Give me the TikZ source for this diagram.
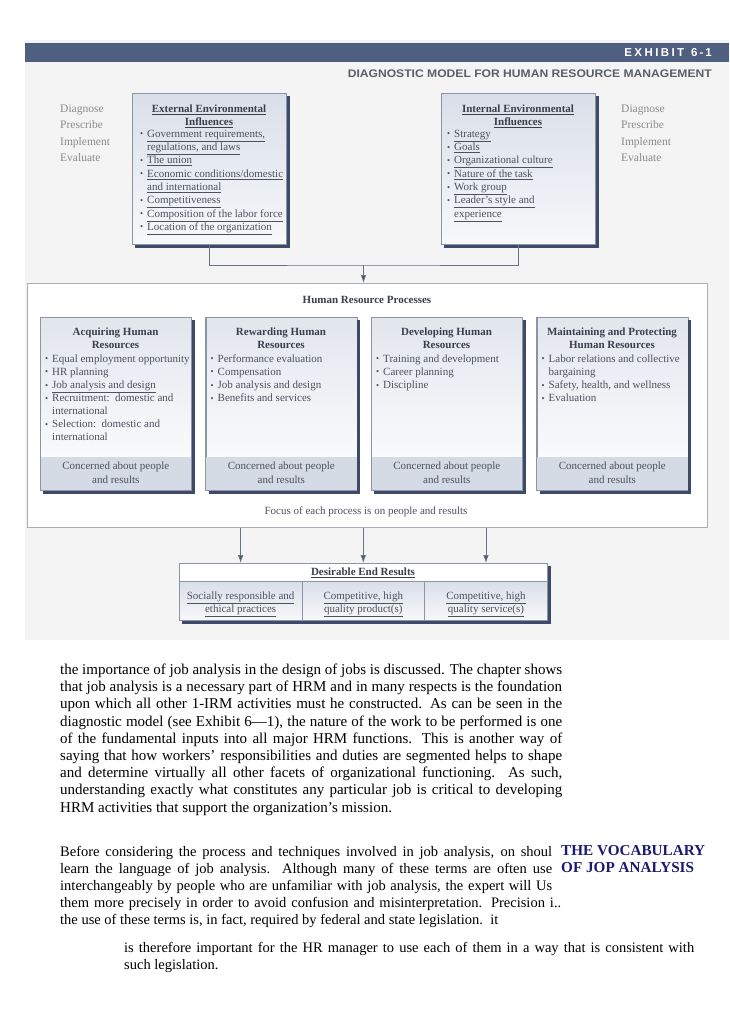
\documentclass[tikz,border=0pt]{standalone}
\usepackage{fontspec}
\setmainfont{Liberation Serif}
\newfontfamily\hsans{Liberation Sans}
\usetikzlibrary{arrows.meta,calc}
\definecolor{barc}{HTML}{4F5F80}
\definecolor{bgc}{HTML}{F4F4F4}
\definecolor{shc}{HTML}{3E4A68}
\definecolor{bdc}{HTML}{8C95A8}
\definecolor{topc}{HTML}{D9DFE9}
\definecolor{botc}{HTML}{F7F8FA}
\definecolor{ptopc}{HTML}{E2E6ED}
\definecolor{bandc}{HTML}{D5DBE4}
\definecolor{txd}{HTML}{3A3F4C}
\definecolor{txm}{HTML}{4C515E}
\definecolor{txl}{HTML}{8A8A8A}
\definecolor{hdrtxt}{HTML}{5A5F67}
\definecolor{navyc}{HTML}{1A1A70}
\definecolor{lnc}{HTML}{6A7284}
\definecolor{arc}{HTML}{4A5570}
\definecolor{obc}{HTML}{A9AEB6}
\newcommand{\bul}{\makebox[7pt][l]{\raisebox{0.5pt}{\scalebox{0.8}{\textbullet}}}}
\newcommand{\ind}{\hspace*{7pt}}
\newcommand{\uu}[1]{\underline{#1}}
\newcommand{\boxshadow}[1]{\draw[shc, line width=3pt] ([xshift=1.5pt,yshift=-3pt]#1.north east) -- ([xshift=1.5pt,yshift=-1.5pt]#1.south east) -- ([xshift=3pt,yshift=-1.5pt]#1.south west);}
\begin{document}
\begin{tikzpicture}[x=1pt,y=-1pt,
  lab/.style={inner sep=0pt, text=txl, font=\fontsize{11.5}{13}\selectfont},
  dtext/.style={inner sep=0pt, text=txm, font=\fontsize{11}{13.3}\selectfont},
  dtitle/.style={inner sep=0pt, text=txd, font=\bfseries\fontsize{11}{13.6}\selectfont},
  sbox/.style={draw=bdc, line width=0.6pt, top color=topc, bottom color=botc, inner sep=0pt, anchor=north west, minimum width=154pt, minimum height=151pt},
  pbox/.style={draw=bdc, line width=0.6pt, top color=ptopc, bottom color=white, inner sep=0pt, anchor=north west, minimum width=151pt, minimum height=173pt},
  cellbox/.style={draw=bdc, line width=0.6pt, top color=topc, bottom color=botc, inner sep=0pt, anchor=north west, minimum width=122.67pt, minimum height=39pt},
  conn/.style={draw=lnc, line width=0.7pt},
  arr/.style={conn, -{Latex[length=8pt,width=5.5pt,fill=arc]}},
  body/.style={inner sep=0pt, anchor=base west, font=\fontsize{15}{17.4}\selectfont},
  bodyb/.style={inner sep=0pt, anchor=base west, font=\fontsize{14.5}{17}\selectfont},
  voc/.style={inner sep=0pt, anchor=base west, text=navyc, font=\bfseries\fontsize{15.2}{18}\selectfont},
]
\useasboundingbox (0,0) rectangle (729,1030);
\fill[white] (0,0) rectangle (729,1030);
\fill[bgc] (25,40) rectangle (729,640);

% header
\node[fill=barc, inner sep=0pt, minimum width=704pt, minimum height=19pt, anchor=north west] (bar) at (25,43) {};
\node[anchor=east, inner sep=0pt, text=white, font=\hsans\bfseries\fontsize{11.5}{13}\selectfont] (exh) at (712,53) {E\kern2.4pt X\kern2.4pt H\kern2.4pt I\kern2.4pt B\kern2.4pt I\kern2.4pt T\kern7pt 6\kern2pt-\kern2pt 1};
\node[anchor=base east, inner sep=0pt, text=hdrtxt, font=\hsans\bfseries\fontsize{11}{13}\selectfont] (dmt) at (712,78) {\resizebox{364pt}{\height}{DIAGNOSTIC MODEL FOR HUMAN RESOURCE MANAGEMENT}};

% diagnose labels
\foreach \w [count=\i from 0] in {Diagnose,Prescribe,Implement,Evaluate} {
  \node[lab, anchor=base west] (dl\i) at (60,{112.3+16.4*\i}) {\w};
  \node[lab, anchor=base west] (dr\i) at (621,{112.3+16.4*\i}) {\w};
}

% external box
\node[sbox] (ext) at (132,93) {};
\boxshadow{ext}
\node[dtitle, anchor=base] (extT1) at (209,112.3) {\uu{External Environmental}};
\node[dtitle, anchor=base] (extT2) at (209,125.9) {\uu{Influences}};
\foreach \t [count=\i from 0] in {{\bul\uu{Government requirements,}},{\ind\uu{regulations, and laws}},{\bul\uu{The union}},{\bul\uu{Economic conditions/domestic}},{\ind\uu{and international}},{\bul\uu{Competitiveness}},{\bul\uu{Composition of the labor force}},{\bul\uu{Location of the organization}}}
  \node[dtext, anchor=base west] (exti\i) at (140,{137.3+13.3*\i}) {\t};

% internal box
\node[sbox] (int) at (441,93) {};
\boxshadow{int}
\node[dtitle, anchor=base] (intT1) at (518,112.3) {\uu{Internal Environmental}};
\node[dtitle, anchor=base] (intT2) at (518,125.9) {\uu{Influences}};
\foreach \t [count=\i from 0] in {{\bul\uu{Strategy}},{\bul\uu{Goals}},{\bul\uu{Organizational culture}},{\bul\uu{Nature of the task}},{\bul\uu{Work group}},{\bul\uu{Leader's style and}},{\ind\uu{experience}}}
  \node[dtext, anchor=base west] (inti\i) at (447,{137.3+13.3*\i}) {\t};

% process outer box
\node[draw=obc, fill=white, line width=0.8pt, inner sep=0pt, anchor=north west, minimum width=680pt, minimum height=244pt] (proc) at (27,283) {};
\node[dtitle, anchor=base] (procT) at (367,303) {Human Resource Processes};

% connector into processes
\coordinate (jn) at (363.5,265);
\draw[conn] (ext.south) |- (jn) -| (int.south);
\draw[arr] (jn) -- (jn |- proc.north);

% process boxes
\foreach \nm/\x in {acq/40,rew/205.5,dev/371,mnt/536.5} {
  \node[pbox] (\nm) at (\x,317) {};
  \fill[bandc] ($(\nm.south west)+(0.3,0)$) rectangle ($(\nm.south east)+(-0.3,-34)$);
  \draw[bdc, line width=0.6pt] (\nm.south west) rectangle (\nm.north east);
  \boxshadow{\nm}
  \node[dtext, anchor=base] (\nm b1) at ($(\nm.south)+(0,-20.7)$) {Concerned about people};
  \node[dtext, anchor=base] (\nm b2) at ($(\nm.south)+(0,-7)$) {and results};
}
\node[dtitle, anchor=base] (acqT1) at (115.5,335.3) {Acquiring Human};
\node[dtitle, anchor=base] (acqT2) at (115.5,348.9) {Resources};
\node[dtitle, anchor=base] (rewT1) at (281,335.3) {Rewarding Human};
\node[dtitle, anchor=base] (rewT2) at (281,348.9) {Resources};
\node[dtitle, anchor=base] (devT1) at (446.5,335.3) {Developing Human};
\node[dtitle, anchor=base] (devT2) at (446.5,348.9) {Resources};
\node[dtitle, anchor=base] (mntT1) at (612,335.3) {Maintaining and Protecting};
\node[dtitle, anchor=base] (mntT2) at (612,348.9) {Human Resources};
\foreach \t [count=\i from 0] in {{\bul Equal employment opportunity},{\bul HR planning},{\bul\uu{Job analysis and design}},{\bul Recruitment:\ \ domestic and},{\ind international},{\bul Selection:\ \ domestic and},{\ind international}}
  \node[dtext, anchor=base west] (acqi\i) at (45,{362.3+13.1*\i}) {\t};
\foreach \t [count=\i from 0] in {{\bul Performance evaluation},{\bul Compensation},{\bul Job analysis and design},{\bul Benefits and services}}
  \node[dtext, anchor=base west] (rewi\i) at (210.5,{362.3+13.1*\i}) {\t};
\foreach \t [count=\i from 0] in {{\bul Training and development},{\bul Career planning},{\bul Discipline}}
  \node[dtext, anchor=base west] (devi\i) at (376,{362.3+13.1*\i}) {\t};
\foreach \t [count=\i from 0] in {{\bul Labor relations and collective},{\ind bargaining},{\bul Safety, health, and wellness},{\bul Evaluation}}
  \node[dtext, anchor=base west] (mnti\i) at (541.5,{362.3+13.1*\i}) {\t};
\node[dtext, anchor=base] (focus) at (366,514.3) {Focus of each process is on people and results};

% desirable end results
\node[draw=bdc, fill=white, line width=0.6pt, inner sep=0pt, anchor=north west, minimum width=368pt, minimum height=57pt] (res) at (179,563) {};
\node[cellbox] (c1) at (179,581) {};
\node[cellbox] (c2) at (301.67,581) {};
\node[cellbox] (c3) at (424.33,581) {};
\boxshadow{res}
\node[dtitle, anchor=base] (resT) at (363,575.3) {\uu{Desirable End Results}};
\node[dtext, anchor=base] (c1a) at ($(c1.north)+(0,18.3)$) {\uu{Socially responsible and}};
\node[dtext, anchor=base] (c1b) at ($(c1.north)+(0,31.5)$) {\uu{ethical practices}};
\node[dtext, anchor=base] (c2a) at ($(c2.north)+(0,18.3)$) {\uu{Competitive, high}};
\node[dtext, anchor=base] (c2b) at ($(c2.north)+(0,31.5)$) {\uu{quality product(s)}};
\node[dtext, anchor=base] (c3a) at ($(c3.north)+(0,18.3)$) {\uu{Competitive, high}};
\node[dtext, anchor=base] (c3b) at ($(c3.north)+(0,31.5)$) {\uu{quality service(s)}};
\foreach \c in {c1,c2,c3}
  \draw[arr] (\c |- proc.south) -- (\c |- res.north);

% body text paragraph 1
\foreach \t [count=\i from 0] in {{the importance of job analysis in the design of jobs is discussed. The chapter shows},{that job analysis is a necessary part of HRM and in many respects is the foundation},{upon which all other 1-IRM activities must he constructed. As can be seen in the},{diagnostic model (see Exhibit 6—1), the nature of the work to be performed is one},{of the fundamental inputs into all major HRM functions. This is another way of},{saying that how workers’ responsibilities and duties are segmented helps to shape},{and determine virtually all other facets of organizational functioning. As such,},{understanding exactly what constitutes any particular job is critical to developing}}
  \node[body] (pa\i) at (60,{674.5+17.2*\i}) {\makebox[502pt][s]{\t}};
\node[body] (pa8) at (60,{674.5+17.2*8}) {HRM activities that support the organization’s mission.};

% paragraph 2
\foreach \t [count=\i from 0] in {{Before considering the process and techniques involved in job analysis, on shoul},{learn the language of job analysis. Although many of these terms are often use},{interchangeably by people who are unfamiliar with job analysis, the expert will Us}}
  \node[bodyb] (pb\i) at (60,{856.5+17*\i}) {\makebox[492pt][s]{\t}};
\node[bodyb] (pb3) at (60,{856.5+17*3}) {\makebox[501pt][s]{them more precisely in order to avoid confusion and misinterpretation. Precision i..}};
\node[bodyb] (pb4) at (60,{856.5+17*4}) {the use of these terms is, in fact, required by federal and state legislation.\ \ it};
\node[voc] (voc1) at (561,855.5) {THE VOCABULARY};
\node[voc] (voc2) at (561,872.5) {OF JOP ANALYSIS};

% paragraph 3
\node[bodyb] (pc0) at (124,952.5) {\makebox[570pt][s]{is therefore important for the HR manager to use each of them in a way that is consistent with}};
\node[bodyb] (pc1) at (124,969.5) {such legislation.};
\end{tikzpicture}
\end{document}
